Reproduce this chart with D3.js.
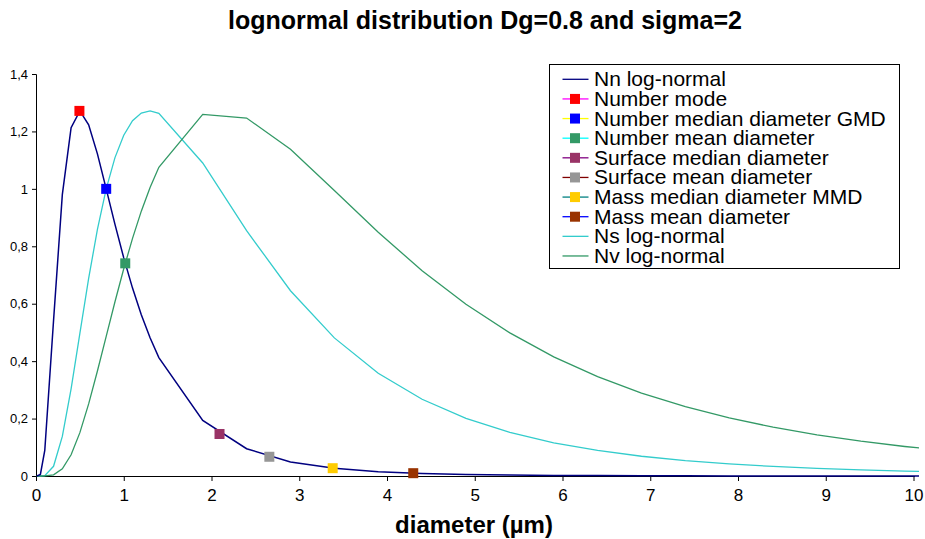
<!DOCTYPE html>
<html>
<head>
<meta charset="utf-8">
<script src="https://cdn.jsdelivr.net/npm/d3@7.9.0/dist/d3.min.js"></script>
<style>
  body { margin: 0; background: #fff; }
  svg { display: block; font-family: "Liberation Sans", Arial, sans-serif; }
</style>
</head>
<body>
<svg id="chart" width="925" height="539"></svg>
<script>
// sample diameters (µm) and the three normalised distributions
const diameters = [0.01, 0.05, 0.1, 0.2, 0.3, 0.4, 0.5, 0.6, 0.7, 0.8, 0.9, 1.0, 1.1, 1.2, 1.3, 1.4,
  1.9, 2.4, 2.9, 3.4, 3.9, 4.4, 4.9, 5.4, 5.9, 6.4, 6.9, 7.4, 7.9, 8.4, 8.9, 9.4, 9.9, 10.4]
const nnValues = [0, 0.0054, 0.0889, 0.5413, 0.9799, 1.2131, 1.2714, 1.2233, 1.1218, 1.0, 0.8762, 0.7596, 0.6544, 0.5618, 0.4815, 0.4125,
  0.1933, 0.0949, 0.0491, 0.0266, 0.0151, 0.0088, 0.0054, 0.0033, 0.0021, 0.0014, 0.0009, 0.0006, 0.0004, 0.0003, 0.0002, 0.00015, 0.0001, 0.0001]
const nsValues = [0, 0.00002, 0.0014, 0.0338, 0.1378, 0.3033, 0.4966, 0.6881, 0.8589, 1.0, 1.1089, 1.1869, 1.2373, 1.2641, 1.2715, 1.2633,
  1.0902, 0.8543, 0.6452, 0.4810, 0.3579, 0.2672, 0.2007, 0.1518, 0.1157, 0.0889, 0.0688, 0.0536, 0.0421, 0.0333, 0.0265, 0.0212, 0.0171, 0.0138]
const nvValues = [0, 0, 0.0001, 0.0041, 0.0251, 0.0738, 0.1510, 0.2511, 0.3656, 0.4864, 0.6068, 0.7217, 0.8275, 0.9223, 1.0050, 1.0753,
  1.2594, 1.2467, 1.1377, 0.9944, 0.8488, 0.7149, 0.5979, 0.4984, 0.4151, 0.3458, 0.2886, 0.2413, 0.2023, 0.1701, 0.1433, 0.1212, 0.1028, 0.0874]

// characteristic diameters, one point each
const markerNames = ['Number mode', 'Number median diameter GMD', 'Number mean diameter', 'Surface median diameter',
  'Surface mean diameter', 'Mass median diameter MMD', 'Mass mean diameter']
const markerX = [0.4948, 0.8, 1.0171, 2.0913, 2.6592, 3.3811, 4.2991]
const markerY = [1.2715, 1.0, 0.7406, 0.1463, 0.0670, 0.0272, 0.0098]

const xTicks = [0, 1, 2, 3, 4, 5, 6, 7, 8, 9, 10]
const yTicks = [0, 0.2, 0.4, 0.6, 0.8, 1, 1.2, 1.4]

const markerFill = ['#ff0000', '#0000ff', '#339966', '#993366', '#969696', '#ffcc00', '#993300']
const markerLine = ['#ff00ff', '#ffff00', '#00ffff', '#800080', '#800000', '#008080', '#0000ff']
const nnColor = '#000080', nsColor = '#33cccc', nvColor = '#339966'

const svg = d3.select('#chart')
const x = d3.scaleLinear().domain([0, 10]).range([36, 913.5])
const y = d3.scaleLinear().domain([0, 1.4]).range([476, 74])

svg.append('text')
  .attr('x', 485).attr('y', 29)
  .attr('text-anchor', 'middle')
  .attr('font-size', 25).attr('font-weight', 'bold')
  .text('lognormal distribution Dg=0.8 and sigma=2')

svg.append('clipPath').attr('id', 'plotclip')
  .append('rect').attr('x', 36).attr('y', 60).attr('width', 883).attr('height', 420)

// axes
const fmt = d => String(d).replace('.', ',')
const yAxis = svg.append('g').attr('transform', 'translate(36,0)')
  .call(d3.axisLeft(y).tickValues(yTicks).tickFormat(fmt).tickSize(4).tickPadding(4))
yAxis.selectAll('text').attr('font-size', 13).attr('fill', '#000').attr('font-family', null)
yAxis.select('.domain').attr('stroke', '#000')

const xAxis = svg.append('g').attr('transform', 'translate(0,476)')
  .call(d3.axisBottom(x).tickValues(xTicks).tickFormat(d3.format('d')).tickSize(5).tickPadding(8))
xAxis.selectAll('text').attr('font-size', 17).attr('fill', '#000').attr('font-family', null)
xAxis.select('.domain').attr('d', 'M36,0.5H915')

svg.append('text')
  .attr('x', 474).attr('y', 533)
  .attr('text-anchor', 'middle')
  .attr('font-size', 24).attr('font-weight', 'bold')
  .text('diameter (µm)')

// curves
const plot = svg.append('g').attr('clip-path', 'url(#plotclip)')
const line = d3.line().x(d => x(d[0])).y(d => y(d[1]))
const curves = [
  { vals: nsValues, color: nsColor, w: 1.3 },
  { vals: nvValues, color: nvColor, w: 1.3 },
  { vals: nnValues, color: nnColor, w: 1.5 }
]
curves.forEach(c => {
  plot.append('path')
    .attr('d', line(diameters.map((d, i) => [d, c.vals[i]])))
    .attr('fill', 'none')
    .attr('stroke', c.color)
    .attr('stroke-width', c.w)
})

markerX.forEach((mx, i) => {
  svg.append('rect')
    .attr('x', x(mx) - 5).attr('y', y(markerY[i]) - 5)
    .attr('width', 10).attr('height', 10)
    .attr('fill', markerFill[i])
})

// legend
const legend = svg.append('g')
legend.append('rect')
  .attr('x', 549.5).attr('y', 64.5).attr('width', 350).attr('height', 204)
  .attr('fill', '#fff').attr('stroke', '#000').attr('stroke-width', 1)

const legendItems = [{ name: 'Nn log-normal', line: nnColor }]
markerNames.forEach((n, i) => legendItems.push({ name: n, line: markerLine[i], fill: markerFill[i] }))
legendItems.push({ name: 'Ns log-normal', line: nsColor })
legendItems.push({ name: 'Nv log-normal', line: nvColor })

legendItems.forEach((it, i) => {
  const cy = 79.3 + i * 19.63
  legend.append('line')
    .attr('x1', 562.5).attr('x2', 588.5).attr('y1', cy).attr('y2', cy)
    .attr('stroke', it.line).attr('stroke-width', 1.3)
  if (it.fill) {
    legend.append('rect')
      .attr('x', 570).attr('y', cy - 5).attr('width', 10).attr('height', 10)
      .attr('fill', it.fill)
  }
  legend.append('text')
    .attr('x', 594).attr('y', cy + 7)
    .attr('font-size', 21)
    .text(it.name)
})
</script>
</body>
</html>
